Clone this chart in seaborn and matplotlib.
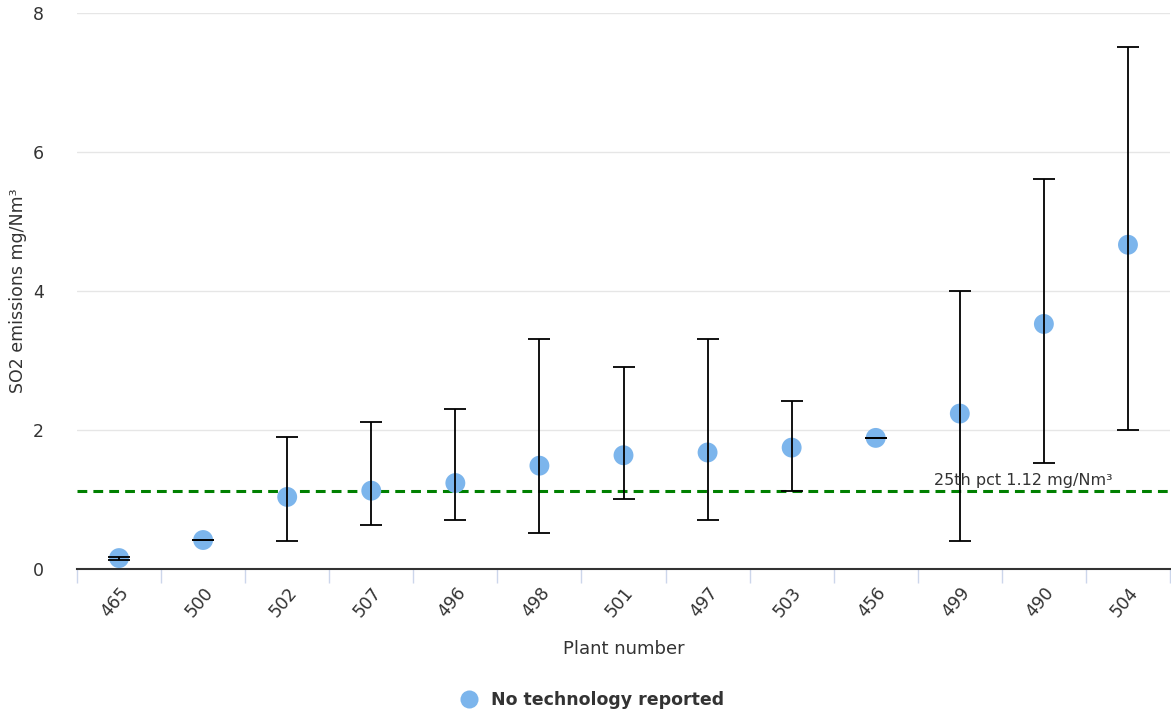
import matplotlib
matplotlib.use("Agg")
import matplotlib.pyplot as plt
import seaborn as sns
import pandas as pd
from matplotlib.lines import Line2D

# Plant-level SO2 emissions (mean with min/max range), mg/Nm³
plants = ["465", "500", "502", "507", "496", "498", "501", "497", "503", "456", "499", "490", "504"]
mean_values = [0.15, 0.41, 1.03, 1.12, 1.23, 1.48, 1.63, 1.67, 1.74, 1.88, 2.23, 3.52, 4.66]
low_values = [0.12, 0.41, 0.40, 0.62, 0.70, 0.51, 1.00, 0.70, 1.12, 1.88, 0.40, 1.52, 2.00]
high_values = [0.17, 0.41, 1.89, 2.11, 2.30, 3.31, 2.90, 3.31, 2.41, 1.88, 3.99, 5.60, 7.50]
percentile_25 = 1.12
y_ticks = [0, 2, 4, 6, 8]

df = pd.DataFrame({"plant": plants, "mean": mean_values, "low": low_values, "high": high_values})

sns.set_theme(style="white")
plt.rcParams["font.family"] = ["DejaVu Sans"]

W, H = 1171, 715
fig = plt.figure(figsize=(W / 100, H / 100), dpi=100)
ax = fig.add_axes([77 / W, 1 - 568.5 / H, (1170 - 77) / W, (568.5 - 12.7) / H])

point_color = "#7cb5ec"
text_color = "#333333"

sns.scatterplot(data=df, x="plant", y="mean", ax=ax, s=205, color=point_color,
                edgecolor="none", zorder=3, legend=False)

xs = list(range(len(plants)))
ax.errorbar(xs, df["mean"],
            yerr=[df["mean"] - df["low"], df["high"] - df["mean"]],
            fmt="none", ecolor="#000000", elinewidth=1.3, capsize=7.6, capthick=1.3, zorder=4)

# 25th percentile reference line
ax.axhline(percentile_25, color="#008000", linestyle=(0, (3.2, 2.0)), linewidth=2.2, zorder=2)
ax.annotate(f"25th pct {percentile_25} mg/Nm³", xy=(1.0, percentile_25),
            xycoords=("axes fraction", "data"), xytext=(-57, 3), textcoords="offset pixels",
            ha="right", va="bottom", fontsize=11.5, color=text_color, zorder=5)

ax.set_xlim(-0.5, len(plants) - 0.5)
ax.set_ylim(0, 8)
ax.set_yticks(y_ticks)
ax.set_yticklabels([str(t) for t in y_ticks], fontsize=12.5, color=text_color)
ax.yaxis.grid(True, color="#e6e6e6", linewidth=1)
ax.set_axisbelow(True)
ax.tick_params(axis="y", length=0, pad=24)

# category labels centred, tick marks on the category boundaries
ax.set_xticks(xs)
ax.set_xticklabels(plants, rotation=50, ha="right", rotation_mode="anchor",
                   fontsize=12.5, color=text_color)
ax.tick_params(axis="x", which="major", length=0, pad=11)
ax.set_xticks([x - 0.5 for x in range(len(plants) + 1)], minor=True)
ax.tick_params(axis="x", which="minor", bottom=True, length=10, width=1,
               color="#ccd6eb", direction="out")

for side in ["top", "right", "left"]:
    ax.spines[side].set_visible(False)
ax.spines["bottom"].set_color("#333333")
ax.spines["bottom"].set_linewidth(1.5)

ax.set_xlabel("Plant number", fontsize=13, color=text_color, labelpad=14)
ax.set_ylabel("SO2 emissions mg/Nm³", fontsize=12.5, color=text_color)
ax.yaxis.set_label_coords(-50 / (1170 - 77), 0.5)

handle = Line2D([], [], marker="o", linestyle="none", markersize=13,
                markerfacecolor=point_color, markeredgecolor="none")
fig.legend([handle], ["No technology reported"], loc="center", bbox_to_anchor=(588 / W, 1 - 700 / H),
           frameon=False, prop={"weight": "bold", "size": 12.5}, handletextpad=0.3,
           labelcolor=text_color)

fig.savefig("out.png", dpi=100)
